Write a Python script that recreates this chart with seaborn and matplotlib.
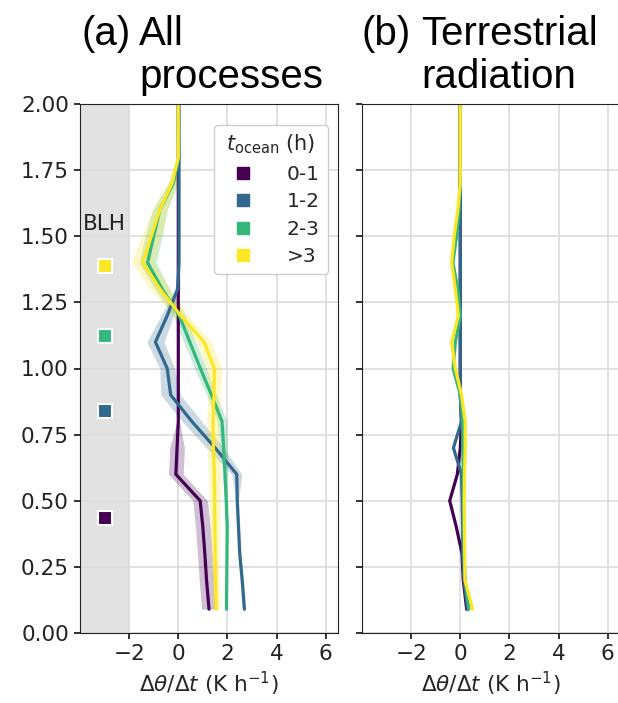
import numpy as np
import pandas as pd
import matplotlib
matplotlib.use("Agg")
import matplotlib.pyplot as plt
from matplotlib.lines import Line2D
from matplotlib.ticker import FormatStrFormatter
import seaborn as sns

# ---------------- data ----------------
heights = [0.09, 0.2, 0.3, 0.4, 0.5, 0.6, 0.7, 0.8, 0.9, 1.0,
           1.1, 1.2, 1.3, 1.4, 1.5, 1.6, 1.7, 1.8, 1.9, 2.0]
groups = ["0-1", "1-2", "2-3", ">3"]

# (a) all processes: heating rate (K/h)
all_01 = [1.25, 1.15, 1.08, 1.0, 0.89, -0.1, -0.05, 0.0, 0.0, 0.0,
          0.0, 0.0, 0.0, 0.0, 0.0, 0.0, 0.0, 0.0, 0.0, 0.0]
all_12 = [2.69, 2.6, 2.5, 2.45, 2.4, 2.38, 1.5, 0.55, -0.31, -0.45,
          -0.93, -0.45, -0.03, 0.03, 0.03, 0.03, 0.03, 0.03, 0.03, 0.03]
all_23 = [1.96, 1.97, 1.98, 1.99, 1.95, 1.9, 1.85, 1.78, 1.35, 0.9,
          0.47, 0.04, -0.65, -1.25, -1.0, -0.75, -0.2, 0.03, 0.0, 0.0]
all_3p = [1.55, 1.52, 1.5, 1.49, 1.48, 1.47, 1.43, 1.41, 1.45, 1.47,
          1.05, 0.1, -0.74, -1.45, -1.1, -0.75, -0.25, 0.0, 0.0, 0.0]
# half width of the shaded uncertainty bands
band_01 = [0.3, 0.3, 0.3, 0.3, 0.3, 0.3, 0.3, 0.05, 0.03, 0.03,
           0.03, 0.03, 0.03, 0.03, 0.03, 0.03, 0.03, 0.03, 0.03, 0.03]
band_12 = [0.05, 0.05, 0.05, 0.05, 0.05, 0.2, 0.35, 0.4, 0.4, 0.3,
           0.35, 0.25, 0.1, 0.03, 0.03, 0.03, 0.03, 0.03, 0.03, 0.03]
band_23 = [0.05, 0.05, 0.05, 0.05, 0.07, 0.1, 0.15, 0.2, 0.2, 0.25,
           0.25, 0.25, 0.3, 0.35, 0.35, 0.3, 0.2, 0.05, 0.03, 0.03]
band_3p = [0.15, 0.15, 0.18, 0.2, 0.22, 0.25, 0.25, 0.25, 0.25, 0.3,
           0.3, 0.3, 0.4, 0.45, 0.4, 0.3, 0.2, 0.05, 0.03, 0.03]

# (b) terrestrial radiation
rad_01 = [0.26, 0.12, 0.07, -0.16, -0.43, -0.12, 0.0, 0.05, 0.0, 0.0,
          0.0, 0.0, 0.0, 0.0, 0.0, 0.0, 0.0, 0.0, 0.0, 0.0]
rad_12 = [0.3, 0.15, 0.1, 0.1, 0.08, 0.05, -0.28, 0.05, 0.0, 0.0,
          0.0, 0.0, 0.0, 0.0, 0.0, 0.0, 0.0, 0.0, 0.0, 0.0]
rad_23 = [0.35, 0.2, 0.15, 0.14, 0.13, 0.12, 0.1, 0.1, 0.0, -0.29,
          -0.2, 0.0, -0.1, -0.3, -0.15, -0.05, 0.0, 0.0, 0.0, 0.0]
rad_3p = [0.5, 0.19, 0.18, 0.17, 0.16, 0.17, 0.2, 0.2, 0.05, -0.2,
          -0.35, -0.08, -0.2, -0.35, -0.25, -0.1, 0.0, 0.0, 0.0, 0.0]

# boundary-layer heights (km)
blh_x = [-3, -3, -3, -3]
blh_z = [0.435, 0.839, 1.123, 1.387]

xticks = [-2, 0, 2, 4, 6]
yticks = [0.0, 0.25, 0.5, 0.75, 1.0, 1.25, 1.5, 1.75, 2.0]
xlabel = r"$\Delta\theta/\Delta t$ (K h$^{-1}$)"

colors = ["#440154", "#31688e", "#35b779", "#fde725"]

def long_df(series):
    frames = []
    for g, vals in zip(groups, series):
        frames.append(pd.DataFrame({"z": heights, "rate": vals, "group": g}))
    return pd.concat(frames, ignore_index=True)

df_all = long_df([all_01, all_12, all_23, all_3p])
df_rad = long_df([rad_01, rad_12, rad_23, rad_3p])
bands = [band_01, band_12, band_23, band_3p]

# ---------------- style ----------------
sns.set_style("whitegrid", {
    "axes.edgecolor": "#222222",
    "grid.color": "#dcdcdc",
    "xtick.bottom": True,
    "ytick.left": True,
    "axes.linewidth": 1.3,
})
plt.rcParams["font.family"] = ["DejaVu Sans"]
plt.rcParams["xtick.major.size"] = 4.5
plt.rcParams["ytick.major.size"] = 4.5
plt.rcParams["xtick.color"] = "#222222"
plt.rcParams["ytick.color"] = "#222222"

W, H = 618, 703
fig = plt.figure(figsize=(W / 100, H / 100), dpi=100)
ax1 = fig.add_axes([80 / W, 1 - 633 / H, 258 / W, 529 / H])
ax2 = fig.add_axes([362 / W, 1 - 633 / H, 258 / W, 529 / H])

FS = 15.5

# panel a
ax1.axvspan(-4, -2, color="#e2e2e2", zorder=0, lw=0)
for g, c, b in zip(groups, colors, bands):
    sub = df_all[df_all.group == g]
    ax1.fill_betweenx(sub.z, sub.rate - np.array(b), sub.rate + np.array(b),
                      color=c, alpha=0.25, lw=0, zorder=1.5)
sns.lineplot(data=df_all, x="rate", y="z", hue="group", palette=colors,
             hue_order=groups, orient="y", sort=True, lw=2.3, ax=ax1,
             legend=False, zorder=2)
for x, z, c in zip(blh_x, blh_z, colors):
    ax1.plot(x, z, marker="s", ms=10, mfc=c, mec="white", mew=1.5,
             ls="none", zorder=3)
ax1.text(-3, 1.51, "BLH", ha="center", va="bottom", fontsize=FS, color="#222222")

# panel b
sns.lineplot(data=df_rad, x="rate", y="z", hue="group", palette=colors,
             hue_order=groups, orient="y", sort=True, lw=2.3, ax=ax2,
             legend=False, zorder=2)

for ax in (ax1, ax2):
    ax.set_xlim(-4, 6.5)
    ax.set_ylim(0, 2)
    ax.set_xticks(xticks)
    ax.set_yticks(yticks)
    ax.yaxis.set_major_formatter(FormatStrFormatter("%.2f"))
    ax.tick_params(labelsize=FS, width=1.3)
    ax.set_xlabel(xlabel, fontsize=FS)
    ax.set_ylabel("")
    ax.grid(True, lw=1.2)
    ax.set_axisbelow(True)
ax2.tick_params(labelleft=False)

handles = [Line2D([], [], marker="s", ls="none", ms=9, mfc=c, mec=c)
           for c in colors]
leg = ax1.legend(handles, groups, title=r"$t_\mathrm{ocean}$ (h)",
                 loc="upper right", fontsize=14.5, title_fontsize=15,
                 handletextpad=1.2, borderpad=0.4, labelspacing=0.42,
                 frameon=True, framealpha=1, edgecolor="#cccccc",
                 bbox_to_anchor=(1.0, 0.98))
for t in leg.get_texts():
    t.set_ha("right")

# titles
tf = dict(fontsize=29, family=["Liberation Sans", "DejaVu Sans"],
          va="baseline", ha="left", color="black")
fig.text(82 / W, 1 - 45 / H, "(a)", **tf)
fig.text(139 / W, 1 - 45 / H, "All", **tf)
fig.text(139 / W, 1 - 88 / H, "processes", **tf)
fig.text(362 / W, 1 - 45 / H, "(b)", **tf)
fig.text(421 / W, 1 - 45 / H, "Terrestrial", **tf)
fig.text(421 / W, 1 - 88 / H, "radiation", **tf)

fig.savefig("out.png", dpi=100)
